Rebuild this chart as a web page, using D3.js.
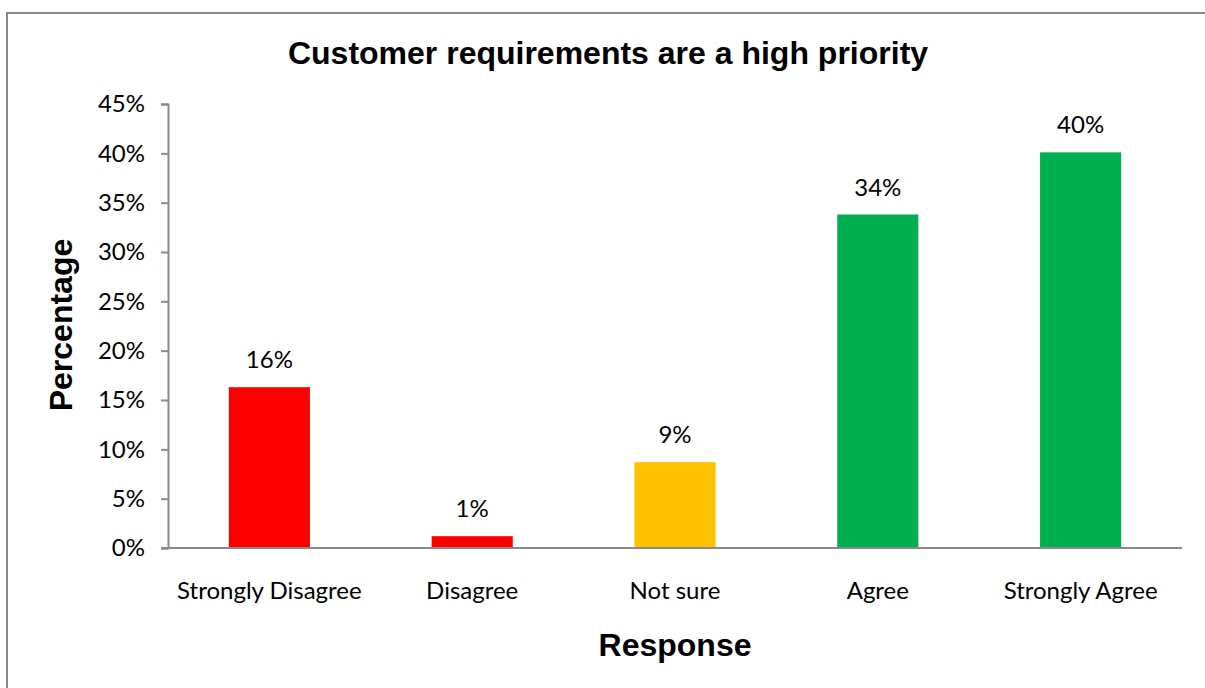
<!DOCTYPE html>
<html>
<head>
<meta charset="utf-8">
<script src="https://cdn.jsdelivr.net/npm/d3@7"></script>
<style>
  html, body { margin: 0; padding: 0; background: #fff; }
  svg { display: block; }
</style>
</head>
<body>
<svg id="chart" width="1205" height="688"></svg>
<script>
// Survey responses: share of respondents per answer (percent)
const categories = ["Strongly Disagree", "Disagree", "Not sure", "Agree", "Strongly Agree"];
const values = [16.3, 1.2, 8.7, 33.8, 40.1];
const barColors = ["#ff0000", "#ff0000", "#ffc000", "#00b050", "#00b050"];
const yTicks = [0, 5, 10, 15, 20, 25, 30, 35, 40, 45];

const title = "Customer requirements are a high priority";
const xTitle = "Response";
const yTitle = "Percentage";

const svg = d3.select("#chart");
const W = 1205, H = 688;
const plot = { left: 168, right: 1182, top: 104, bottom: 548 };

const labelFont = "Lato, 'Open Sans', sans-serif";
const labelSize = 24;
const titleFont = "'Liberation Sans', Arial, sans-serif";
const titleSize = 32;

// outer frame of the chart area
svg.append("rect")
  .attr("x", 7).attr("y", 13)
  .attr("width", W).attr("height", H)
  .attr("fill", "#fff")
  .attr("stroke", "#898989")
  .attr("stroke-width", 2);

const x = d3.scaleBand()
  .domain(categories)
  .range([plot.left, plot.right])
  .paddingInner(0.6)
  .paddingOuter(0.3);

const y = d3.scaleLinear()
  .domain([0, 45])
  .range([plot.bottom, plot.top]);

// bars
svg.append("g")
  .selectAll("rect")
  .data(values)
  .join("rect")
  .attr("x", (d, i) => x(categories[i]))
  .attr("y", d => y(d))
  .attr("width", x.bandwidth())
  .attr("height", d => y(0) - y(d))
  .attr("fill", (d, i) => barColors[i]);

// value labels above each bar
svg.append("g")
  .selectAll("text")
  .data(values)
  .join("text")
  .attr("x", (d, i) => x(categories[i]) + x.bandwidth() / 2)
  .attr("y", d => y(d) - 19)
  .attr("text-anchor", "middle")
  .attr("font-family", labelFont)
  .attr("font-size", labelSize)
  .attr("fill", "#000")
  .text(d => Math.round(d) + "%");

// y axis
const yAxis = svg.append("g")
  .attr("transform", `translate(${plot.left},0)`)
  .call(d3.axisLeft(y).tickValues(yTicks).tickFormat(d => d + "%").tickSize(7).tickPadding(16));
yAxis.select(".domain").attr("stroke", "#898989").attr("stroke-width", 2);
yAxis.selectAll(".tick line").attr("stroke", "#898989").attr("stroke-width", 2);
yAxis.selectAll(".tick text")
  .attr("font-family", labelFont)
  .attr("font-size", labelSize)
  .attr("fill", "#000");

// x axis
const xAxis = svg.append("g")
  .attr("transform", `translate(0,${plot.bottom})`)
  .call(d3.axisBottom(x).tickSize(0).tickPadding(34));
xAxis.select(".domain")
  .attr("d", `M${plot.left - 7},0H${plot.right}`)
  .attr("stroke", "#898989").attr("stroke-width", 2);
xAxis.selectAll(".tick text")
  .attr("font-family", labelFont)
  .attr("font-size", labelSize)
  .attr("fill", "#000");

// titles
svg.append("text")
  .attr("x", 608).attr("y", 64)
  .attr("text-anchor", "middle")
  .attr("font-family", titleFont)
  .attr("font-weight", "bold")
  .attr("font-size", titleSize)
  .text(title);

svg.append("text")
  .attr("x", 675).attr("y", 656)
  .attr("text-anchor", "middle")
  .attr("font-family", titleFont)
  .attr("font-weight", "bold")
  .attr("font-size", titleSize)
  .text(xTitle);

svg.append("text")
  .attr("transform", "translate(72,325) rotate(-90)")
  .attr("text-anchor", "middle")
  .attr("font-family", titleFont)
  .attr("font-weight", "bold")
  .attr("font-size", titleSize)
  .text(yTitle);
</script>
</body>
</html>
